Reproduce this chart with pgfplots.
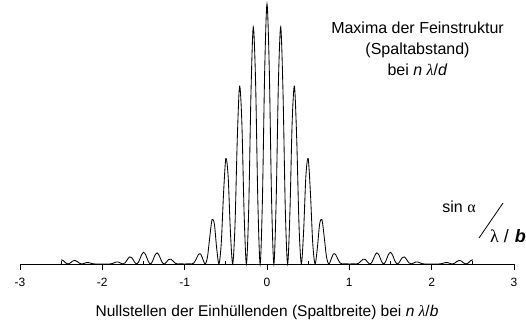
\documentclass[border=0pt]{standalone}
\usepackage{fontspec}
\setmainfont{Liberation Sans}
\newfontfamily\greekfont{Liberation Serif}
\usepackage{pgfplots}
\pgfplotsset{compat=1.18}
\usepackage{pgfplotstable}

% Double-slit intensity: envelope of the single slit times fine structure
\pgfplotstableread{
x y
-2.5 0.0162
-2.4722 0.0123
-2.4444 0.0041
-2.4167 0
-2.3889 0.0039
-2.3611 0.0112
-2.3333 0.0140
-2.3056 0.0096
-2.2778 0.0029
-2.25 0
-2.2222 0.0021
-2.1944 0.0052
-2.1667 0.0054
-2.1389 0.0030
-2.1111 0.0007
-2.0833 0
-2.0556 0.0002
-2.0278 0.0001
-2 0
-1.9722 0.0002
-1.9444 0.0002
-1.9167 0
-1.8889 0.0008
-1.8611 0.0039
-1.8333 0.0075
-1.8056 0.0077
-1.7778 0.0033
-1.75 0
-1.7222 0.0050
-1.6944 0.0178
-1.6667 0.0274
-1.6389 0.0232
-1.6111 0.0086
-1.5833 0
-1.5556 0.0102
-1.5278 0.0323
-1.5 0.0450
-1.4722 0.0348
-1.4444 0.0118
-1.4167 0
-1.3889 0.0116
-1.3611 0.0337
-1.3333 0.0427
-1.3056 0.0299
-1.2778 0.0091
-1.25 0
-1.2222 0.0070
-1.1944 0.0175
-1.1667 0.0186
-1.1389 0.0105
-1.1111 0.0024
-1.0833 0
-1.0556 0.0007
-1.0278 0.0005
-1 0
-0.9722 0.0006
-0.9444 0.0009
-0.9167 0
-0.8889 0.0038
-0.8611 0.0183
-0.8333 0.0365
-0.8056 0.0385
-0.7778 0.0173
-0.75 0
-0.7222 0.0285
-0.6944 0.1057
-0.6667 0.1710
-0.6389 0.1529
-0.6111 0.0599
-0.5833 0
-0.5556 0.0796
-0.5278 0.2707
-0.5 0.4053
-0.4722 0.3382
-0.4444 0.1244
-0.4167 0
-0.3889 0.1479
-0.3611 0.4787
-0.3333 0.6839
-0.3056 0.5461
-0.2778 0.1926
-0.25 0
-0.2222 0.2119
-0.1944 0.6612
-0.1667 0.9119
-0.1389 0.7036
-0.1111 0.2400
-0.0833 0
-0.0556 0.2475
-0.0278 0.7481
0 1
0.0278 0.7481
0.0556 0.2475
0.0833 0
0.1111 0.2400
0.1389 0.7036
0.1667 0.9119
0.1944 0.6612
0.2222 0.2119
0.25 0
0.2778 0.1926
0.3056 0.5461
0.3333 0.6839
0.3611 0.4787
0.3889 0.1479
0.4167 0
0.4444 0.1244
0.4722 0.3382
0.5 0.4053
0.5278 0.2707
0.5556 0.0796
0.5833 0
0.6111 0.0599
0.6389 0.1529
0.6667 0.1710
0.6944 0.1057
0.7222 0.0285
0.75 0
0.7778 0.0173
0.8056 0.0385
0.8333 0.0365
0.8611 0.0183
0.8889 0.0038
0.9167 0
0.9444 0.0009
0.9722 0.0006
1 0
1.0278 0.0005
1.0556 0.0007
1.0833 0
1.1111 0.0024
1.1389 0.0105
1.1667 0.0186
1.1944 0.0175
1.2222 0.0070
1.25 0
1.2778 0.0091
1.3056 0.0299
1.3333 0.0427
1.3611 0.0337
1.3889 0.0116
1.4167 0
1.4444 0.0118
1.4722 0.0348
1.5 0.0450
1.5278 0.0323
1.5556 0.0102
1.5833 0
1.6111 0.0086
1.6389 0.0232
1.6667 0.0274
1.6944 0.0178
1.7222 0.0050
1.75 0
1.7778 0.0033
1.8056 0.0077
1.8333 0.0075
1.8611 0.0039
1.8889 0.0008
1.9167 0
1.9444 0.0002
1.9722 0.0002
2 0
2.0278 0.0001
2.0556 0.0002
2.0833 0
2.1111 0.0007
2.1389 0.0030
2.1667 0.0054
2.1944 0.0052
2.2222 0.0021
2.25 0
2.2778 0.0029
2.3056 0.0096
2.3333 0.0140
2.3611 0.0112
2.3889 0.0039
2.4167 0
2.4444 0.0041
2.4722 0.0123
2.5 0.0162
}\intensity

\begin{document}
\begin{tikzpicture}[x=1pt,y=1pt]
\begin{axis}[
  scale only axis,
  width=494pt, height=260pt,
  at={(20pt,59pt)}, anchor=south west,
  xmin=-3, xmax=3, ymin=0, ymax=1,
  axis y line=none,
  axis x line=bottom,
  x axis line style={-, line width=0.8pt},
  xtick={-3,-2,-1,0,1,2,3},
  xticklabels={-3,-2,-1,0,1,2,3},
  minor xtick={-2.5,-1.5,-0.5,0.5,1.5,2.5},
  tick align=outside,
  major tick length=6pt,
  minor tick length=2.5pt,
  every tick/.style={black, line width=0.8pt},
  every minor tick/.append style={yshift=2.5pt},
  xticklabel style={font=\fontsize{12}{14}\selectfont, anchor=base, yshift=-16.5pt},
  xlabel={Nullstellen der Einhüllenden (Spaltbreite) bei \textit{n} {\greekfont\itshape λ}/\textit{b}},
  xlabel style={at={(axis description cs:0.5,0)}, anchor=base, yshift=-52pt,
    font=\fontsize{15.5}{18}\selectfont},
  clip=false,
]
\addplot[black, line width=0.85pt, smooth, no markers] table {\intensity};
\end{axis}

% fine-structure note
\begin{scope}[every node/.style={anchor=base, font=\fontsize{16}{18}\selectfont}]
  \node at (417.5,289) {Maxima der Feinstruktur};
  \node at (417.5,268) {(Spaltabstand)};
  \node at (417.5,247) {bei \textit{n} {\greekfont\itshape λ}/\textit{d}};
  \node at (459,110) {sin {\greekfont α}};
\end{scope}
% axis quantity written as a fraction with a slanted bar
\draw[line width=0.8pt] (479,85) -- (503,120);
\node[anchor=base west, inner sep=0pt, font=\fontsize{18}{20}\selectfont]
  at (490,80) {{\greekfont λ}\hspace{5pt}/\hspace{6pt}\textit{\textbf{b}}};

\pgfresetboundingbox
\useasboundingbox (0,0) rectangle (526,323);
\end{tikzpicture}
\end{document}
